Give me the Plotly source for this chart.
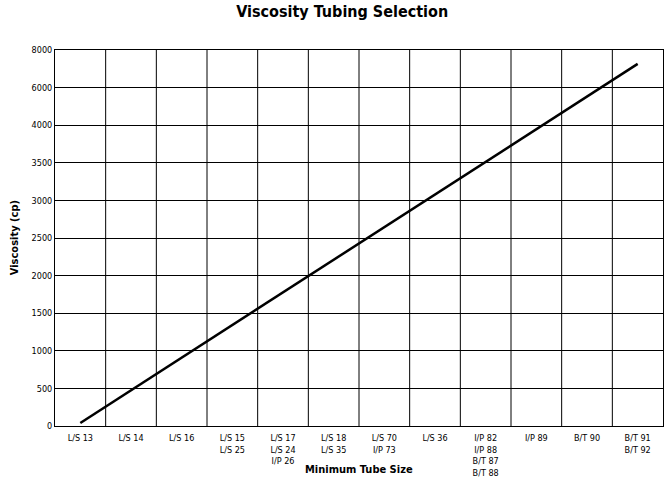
import plotly.graph_objects as go

categories = ["L/S 13", "L/S 14", "L/S 16", "L/S 15<br>L/S 25", "L/S 17<br>L/S 24<br>I/P 26",
              "L/S 18<br>L/S 35", "L/S 70<br>I/P 73", "L/S 36", "I/P 82<br>I/P 88<br>B/T 87<br>B/T 88",
              "I/P 89", "B/T 90", "B/T 91<br>B/T 92"]
y_tick_labels = [0, 500, 1000, 1500, 2000, 2500, 3000, 3500, 4000, 6000, 8000]

# line endpoints (viscosity, cp)
line_cats = ["L/S 13", "B/T 91<br>B/T 92"]
line_visc = [40, 7260]


def to_pos(v):
    # piecewise-linear mapping of viscosity onto the evenly spaced tick grid
    for i in range(len(y_tick_labels) - 1):
        a, b = y_tick_labels[i], y_tick_labels[i + 1]
        if v <= b:
            return i + (v - a) / (b - a)
    return len(y_tick_labels) - 1


FONT = "DejaVu Sans Condensed, Liberation Sans, sans-serif"

xs = [categories.index(c) for c in line_cats]
ys = [to_pos(v) for v in line_visc]

fig = go.Figure()
fig.add_trace(go.Scatter(x=xs, y=ys, mode="lines",
                         line=dict(color="black", width=2.5), showlegend=False))

fig.update_layout(
    width=671, height=480,
    margin=dict(l=55, r=8, t=50, b=54),
    paper_bgcolor="white", plot_bgcolor="white",
    font=dict(family=FONT, color="black", size=9),
    title=dict(text="<b>Viscosity Tubing Selection</b>", x=0.51, xanchor="center",
               y=0.988, yanchor="top", font=dict(family=FONT, size=16, color="black")),
    xaxis=dict(range=[-0.5, len(categories) - 0.5], tickvals=list(range(len(categories))),
               ticktext=categories, showgrid=False, zeroline=False, automargin=False,
               showline=True, linecolor="black", linewidth=1, mirror=True,
               ticks="", tickfont=dict(size=9), ticklabelstandoff=3),
    yaxis=dict(range=[0, len(y_tick_labels) - 1], tickvals=list(range(len(y_tick_labels))),
               ticktext=[str(v) for v in y_tick_labels], showgrid=True, gridcolor="black",
               gridwidth=1, zeroline=False, showline=True, linecolor="black", linewidth=1,
               mirror=True, ticks="", tickfont=dict(size=9), automargin=False),
)

fig.add_annotation(text="<b>Minimum Tube Size</b>", xref="paper", yref="paper",
                   x=0.5, y=-0.115, xanchor="center", yanchor="middle", showarrow=False,
                   font=dict(size=11))
fig.add_annotation(text="<b>Viscosity (cp)</b>", xref="paper", yref="paper",
                   x=-0.067, y=0.5, xanchor="center", yanchor="middle", showarrow=False,
                   textangle=-90, font=dict(size=11))

for i in range(1, len(categories)):
    fig.add_shape(type="line", xref="x", yref="paper", x0=i - 0.5, x1=i - 0.5, y0=0, y1=1,
                  line=dict(color="black", width=1), layer="below")

fig.write_html("out.html")
